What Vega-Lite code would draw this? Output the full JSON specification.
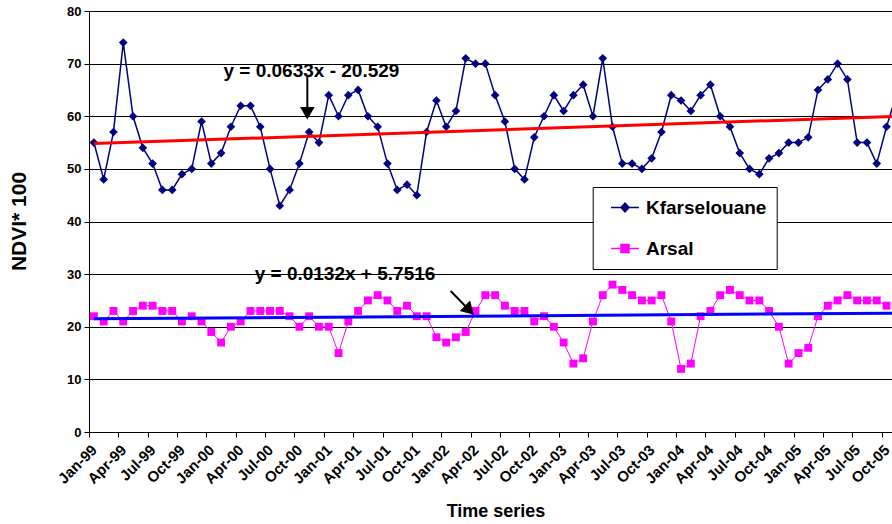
{
  "$schema": "https://vega.github.io/schema/vega-lite/v6.json",
  "width": 803,
  "height": 421,
  "autosize": {"type": "none"},
  "padding": {"left": 89, "top": 11, "right": 0, "bottom": 92},
  "background": "white",
  "config": {
    "font": "Liberation Sans",
    "view": {"fill": "#c0c0c0", "stroke": "#808080", "strokeWidth": 1},
    "axis": {"labelOverlap": false},
    "legend": {
      "title": null, "orient": "none", "legendX": 503.7, "legendY": 176,
      "fillColor": "white", "strokeColor": "black", "padding": 10,
      "labelFontSize": 19, "labelFontWeight": "bold", "labelColor": "black", "labelOffset": 10.5,
      "symbolSize": 361, "symbolOffset": 11.8, "rowPadding": 20, "symbolStrokeWidth": 1.5, "symbolOpacity": 1
    }
  },
  "resolve": {"axis": {"x": "independent"}},
  "datasets": {
    "legend": [{"series": "Kfarselouane"}, {"series": "Arsal"}],
    "series": [
      {"series":"Kfarselouane","idx":0,"v":55},{"series":"Kfarselouane","idx":1,"v":48},{"series":"Kfarselouane","idx":2,"v":57},{"series":"Kfarselouane","idx":3,"v":74},{"series":"Kfarselouane","idx":4,"v":60},{"series":"Kfarselouane","idx":5,"v":54},{"series":"Kfarselouane","idx":6,"v":51},{"series":"Kfarselouane","idx":7,"v":46},{"series":"Kfarselouane","idx":8,"v":46},{"series":"Kfarselouane","idx":9,"v":49},{"series":"Kfarselouane","idx":10,"v":50},{"series":"Kfarselouane","idx":11,"v":59},
      {"series":"Kfarselouane","idx":12,"v":51},{"series":"Kfarselouane","idx":13,"v":53},{"series":"Kfarselouane","idx":14,"v":58},{"series":"Kfarselouane","idx":15,"v":62},{"series":"Kfarselouane","idx":16,"v":62},{"series":"Kfarselouane","idx":17,"v":58},{"series":"Kfarselouane","idx":18,"v":50},{"series":"Kfarselouane","idx":19,"v":43},{"series":"Kfarselouane","idx":20,"v":46},{"series":"Kfarselouane","idx":21,"v":51},{"series":"Kfarselouane","idx":22,"v":57},{"series":"Kfarselouane","idx":23,"v":55},
      {"series":"Kfarselouane","idx":24,"v":64},{"series":"Kfarselouane","idx":25,"v":60},{"series":"Kfarselouane","idx":26,"v":64},{"series":"Kfarselouane","idx":27,"v":65},{"series":"Kfarselouane","idx":28,"v":60},{"series":"Kfarselouane","idx":29,"v":58},{"series":"Kfarselouane","idx":30,"v":51},{"series":"Kfarselouane","idx":31,"v":46},{"series":"Kfarselouane","idx":32,"v":47},{"series":"Kfarselouane","idx":33,"v":45},{"series":"Kfarselouane","idx":34,"v":57},{"series":"Kfarselouane","idx":35,"v":63},
      {"series":"Kfarselouane","idx":36,"v":58},{"series":"Kfarselouane","idx":37,"v":61},{"series":"Kfarselouane","idx":38,"v":71},{"series":"Kfarselouane","idx":39,"v":70},{"series":"Kfarselouane","idx":40,"v":70},{"series":"Kfarselouane","idx":41,"v":64},{"series":"Kfarselouane","idx":42,"v":59},{"series":"Kfarselouane","idx":43,"v":50},{"series":"Kfarselouane","idx":44,"v":48},{"series":"Kfarselouane","idx":45,"v":56},{"series":"Kfarselouane","idx":46,"v":60},{"series":"Kfarselouane","idx":47,"v":64},
      {"series":"Kfarselouane","idx":48,"v":61},{"series":"Kfarselouane","idx":49,"v":64},{"series":"Kfarselouane","idx":50,"v":66},{"series":"Kfarselouane","idx":51,"v":60},{"series":"Kfarselouane","idx":52,"v":71},{"series":"Kfarselouane","idx":53,"v":58},{"series":"Kfarselouane","idx":54,"v":51},{"series":"Kfarselouane","idx":55,"v":51},{"series":"Kfarselouane","idx":56,"v":50},{"series":"Kfarselouane","idx":57,"v":52},{"series":"Kfarselouane","idx":58,"v":57},{"series":"Kfarselouane","idx":59,"v":64},
      {"series":"Kfarselouane","idx":60,"v":63},{"series":"Kfarselouane","idx":61,"v":61},{"series":"Kfarselouane","idx":62,"v":64},{"series":"Kfarselouane","idx":63,"v":66},{"series":"Kfarselouane","idx":64,"v":60},{"series":"Kfarselouane","idx":65,"v":58},{"series":"Kfarselouane","idx":66,"v":53},{"series":"Kfarselouane","idx":67,"v":50},{"series":"Kfarselouane","idx":68,"v":49},{"series":"Kfarselouane","idx":69,"v":52},{"series":"Kfarselouane","idx":70,"v":53},{"series":"Kfarselouane","idx":71,"v":55},
      {"series":"Kfarselouane","idx":72,"v":55},{"series":"Kfarselouane","idx":73,"v":56},{"series":"Kfarselouane","idx":74,"v":65},{"series":"Kfarselouane","idx":75,"v":67},{"series":"Kfarselouane","idx":76,"v":70},{"series":"Kfarselouane","idx":77,"v":67},{"series":"Kfarselouane","idx":78,"v":55},{"series":"Kfarselouane","idx":79,"v":55},{"series":"Kfarselouane","idx":80,"v":51},{"series":"Kfarselouane","idx":81,"v":58},{"series":"Kfarselouane","idx":82,"v":64},
      {"series":"Arsal","idx":0,"v":22},{"series":"Arsal","idx":1,"v":21},{"series":"Arsal","idx":2,"v":23},{"series":"Arsal","idx":3,"v":21},{"series":"Arsal","idx":4,"v":23},{"series":"Arsal","idx":5,"v":24},{"series":"Arsal","idx":6,"v":24},{"series":"Arsal","idx":7,"v":23},{"series":"Arsal","idx":8,"v":23},{"series":"Arsal","idx":9,"v":21},{"series":"Arsal","idx":10,"v":22},{"series":"Arsal","idx":11,"v":21},
      {"series":"Arsal","idx":12,"v":19},{"series":"Arsal","idx":13,"v":17},{"series":"Arsal","idx":14,"v":20},{"series":"Arsal","idx":15,"v":21},{"series":"Arsal","idx":16,"v":23},{"series":"Arsal","idx":17,"v":23},{"series":"Arsal","idx":18,"v":23},{"series":"Arsal","idx":19,"v":23},{"series":"Arsal","idx":20,"v":22},{"series":"Arsal","idx":21,"v":20},{"series":"Arsal","idx":22,"v":22},{"series":"Arsal","idx":23,"v":20},
      {"series":"Arsal","idx":24,"v":20},{"series":"Arsal","idx":25,"v":15},{"series":"Arsal","idx":26,"v":21},{"series":"Arsal","idx":27,"v":23},{"series":"Arsal","idx":28,"v":25},{"series":"Arsal","idx":29,"v":26},{"series":"Arsal","idx":30,"v":25},{"series":"Arsal","idx":31,"v":23},{"series":"Arsal","idx":32,"v":24},{"series":"Arsal","idx":33,"v":22},{"series":"Arsal","idx":34,"v":22},{"series":"Arsal","idx":35,"v":18},
      {"series":"Arsal","idx":36,"v":17},{"series":"Arsal","idx":37,"v":18},{"series":"Arsal","idx":38,"v":19},{"series":"Arsal","idx":39,"v":23},{"series":"Arsal","idx":40,"v":26},{"series":"Arsal","idx":41,"v":26},{"series":"Arsal","idx":42,"v":24},{"series":"Arsal","idx":43,"v":23},{"series":"Arsal","idx":44,"v":23},{"series":"Arsal","idx":45,"v":21},{"series":"Arsal","idx":46,"v":22},{"series":"Arsal","idx":47,"v":20},
      {"series":"Arsal","idx":48,"v":17},{"series":"Arsal","idx":49,"v":13},{"series":"Arsal","idx":50,"v":14},{"series":"Arsal","idx":51,"v":21},{"series":"Arsal","idx":52,"v":26},{"series":"Arsal","idx":53,"v":28},{"series":"Arsal","idx":54,"v":27},{"series":"Arsal","idx":55,"v":26},{"series":"Arsal","idx":56,"v":25},{"series":"Arsal","idx":57,"v":25},{"series":"Arsal","idx":58,"v":26},{"series":"Arsal","idx":59,"v":21},
      {"series":"Arsal","idx":60,"v":12},{"series":"Arsal","idx":61,"v":13},{"series":"Arsal","idx":62,"v":22},{"series":"Arsal","idx":63,"v":23},{"series":"Arsal","idx":64,"v":26},{"series":"Arsal","idx":65,"v":27},{"series":"Arsal","idx":66,"v":26},{"series":"Arsal","idx":67,"v":25},{"series":"Arsal","idx":68,"v":25},{"series":"Arsal","idx":69,"v":23},{"series":"Arsal","idx":70,"v":20},{"series":"Arsal","idx":71,"v":13},
      {"series":"Arsal","idx":72,"v":15},{"series":"Arsal","idx":73,"v":16},{"series":"Arsal","idx":74,"v":22},{"series":"Arsal","idx":75,"v":24},{"series":"Arsal","idx":76,"v":25},{"series":"Arsal","idx":77,"v":26},{"series":"Arsal","idx":78,"v":25},{"series":"Arsal","idx":79,"v":25},{"series":"Arsal","idx":80,"v":25},{"series":"Arsal","idx":81,"v":24}
    ],
    "trend": [
      {"series":"Kfarselouane","idx":0,"v":54.8},{"series":"Kfarselouane","idx":83,"v":60.05},
      {"series":"Arsal","idx":0,"v":21.5},{"series":"Arsal","idx":83,"v":22.6}
    ],
    "notes": [
      {"label":"y = 0.0633x - 20.529","idx":22.23,"v":67.52},
      {"label":"y = 0.0132x + 5.7516","idx":25.66,"v":28.88}
    ],
    "arrows": [
      {"name":"a1","idx":21.81,"idx2":21.81,"v":67.8,"v2":61.3},
      {"name":"a2","idx":36.46,"idx2":38.07,"v":26.8,"v2":23.7}
    ],
    "heads": [
      {"name":"a1","idx":21.81,"v":60.56},
      {"name":"a2","idx":38.37,"v":23.14}
    ]
  },
  "layer": [
    {
      "data": {"name": "series"},
      "transform": [{"filter": "datum.series === 'Kfarselouane'"}],
      "mark": {"type": "line", "color": "#000080", "strokeWidth": 1.5, "clip": true},
      "encoding": {
        "x": {
          "field": "idx", "type": "quantitative",
          "scale": {"domain": [-0.5, 81.56], "nice": false, "zero": false},
          "axis": {
            "orient": "bottom",
            "values": [0,6,12,18,24,30,36,42,48,54,60,66,72,78],
            "labelExpr": "['Jan','Apr','Jul','Oct'][floor((datum.value % 12) / 3)] + '-' + (datum.value < 12 ? '99' : '0' + floor(datum.value / 12 - 1))",
            "labelAngle": -45, "labelAlign": "right", "labelBaseline": "middle",
            "labelFontSize": 15, "labelFontWeight": "bold", "labelColor": "black",
            "labelPadding": 10, "labelOverlap": false, "labelFlush": false, "labelBound": false,
            "tickOffset": -4.893, "labelOffset": 4.893,
            "tickSize": 5, "tickColor": "black", "domainColor": "black", "grid": false,
            "title": "Time series", "titleFontSize": 18, "titleFontWeight": "bold", "titleColor": "black",
            "titleX": 406.5, "titleY": 84, "titleBaseline": "alphabetic", "titleAlign": "center"
          }
        },
        "y": {
          "field": "v", "type": "quantitative",
          "scale": {"domain": [0, 80], "nice": false},
          "axis": {
            "values": [0,10,20,30,40,50,60,70,80],
            "labelFontSize": 13, "labelFontWeight": "bold", "labelColor": "black", "labelPadding": 3,
            "tickSize": 5, "tickColor": "black", "domainColor": "black",
            "grid": true, "gridColor": "#000000", "gridWidth": 1,
            "title": "NDVI* 100", "titleFontSize": 21, "titleFontWeight": "bold", "titleColor": "black",
            "titleAngle": -90, "titleX": -70, "titleY": 210, "titleAlign": "center", "titleBaseline": "middle"
          }
        }
      }
    },
    {
      "data": {"name": "series"},
      "transform": [{"filter": "datum.series === 'Arsal'"}],
      "mark": {"type": "line", "color": "#ff00ff", "strokeWidth": 1, "clip": true},
      "encoding": {
        "x": {
          "field": "idx", "type": "quantitative",
          "axis": {
            "orient": "bottom",
            "values": [3,9,15,21,27,33,39,45,51,57,63,69,75,81],
            "labelExpr": "['Jan','Apr','Jul','Oct'][floor((datum.value % 12) / 3)] + '-' + (datum.value < 12 ? '99' : '0' + floor(datum.value / 12 - 1))",
            "labelAngle": -45, "labelAlign": "right", "labelBaseline": "middle",
            "labelFontSize": 15, "labelFontWeight": "bold", "labelColor": "black",
            "labelPadding": 10, "labelOverlap": false, "labelFlush": false, "labelBound": false,
            "tickOffset": -4.893, "labelOffset": 4.893,
            "tickSize": 5, "tickColor": "black", "domainColor": "black", "grid": false,
            "title": null
          }
        },
        "y": {"field": "v", "type": "quantitative"}
      }
    },
    {
      "data": {"name": "series"},
      "transform": [{"filter": "datum.series === 'Kfarselouane'"}],
      "mark": {"type": "point", "shape": "diamond", "size": 75, "filled": true, "opacity": 1, "color": "#000080", "clip": true},
      "encoding": {"x": {"field": "idx", "type": "quantitative", "axis": null}, "y": {"field": "v", "type": "quantitative"}}
    },
    {
      "data": {"name": "series"},
      "transform": [{"filter": "datum.series === 'Arsal'"}],
      "mark": {"type": "point", "shape": "square", "size": 62, "filled": true, "opacity": 1, "color": "#ff00ff", "clip": true},
      "encoding": {"x": {"field": "idx", "type": "quantitative", "axis": null}, "y": {"field": "v", "type": "quantitative"}}
    },
    {
      "data": {"name": "trend"},
      "transform": [{"filter": "datum.series === 'Kfarselouane'"}],
      "mark": {"type": "line", "color": "#ff0000", "strokeWidth": 3, "clip": true},
      "encoding": {"x": {"field": "idx", "type": "quantitative", "axis": null}, "y": {"field": "v", "type": "quantitative"}}
    },
    {
      "data": {"name": "trend"},
      "transform": [{"filter": "datum.series === 'Arsal'"}],
      "mark": {"type": "line", "color": "#0000ff", "strokeWidth": 3, "clip": true},
      "encoding": {"x": {"field": "idx", "type": "quantitative", "axis": null}, "y": {"field": "v", "type": "quantitative"}}
    },
    {
      "data": {"name": "notes"},
      "mark": {"type": "text", "fontSize": 19, "fontWeight": "bold", "color": "black", "align": "center", "baseline": "alphabetic"},
      "encoding": {"x": {"field": "idx", "type": "quantitative", "axis": null}, "y": {"field": "v", "type": "quantitative"}, "text": {"field": "label"}}
    },
    {
      "data": {"name": "arrows"},
      "mark": {"type": "rule", "color": "black", "strokeWidth": 2},
      "encoding": {
        "x": {"field": "idx", "type": "quantitative", "axis": null}, "x2": {"field": "idx2"},
        "y": {"field": "v", "type": "quantitative"}, "y2": {"field": "v2"}
      }
    },
    {
      "data": {"name": "heads"},
      "transform": [{"filter": "datum.name === 'a1'"}],
      "mark": {"type": "point", "shape": "triangle-down", "filled": true, "color": "black", "opacity": 1, "size": 213, "angle": 0},
      "encoding": {"x": {"field": "idx", "type": "quantitative", "axis": null}, "y": {"field": "v", "type": "quantitative"}}
    },
    {
      "data": {"name": "heads"},
      "transform": [{"filter": "datum.name === 'a2'"}],
      "mark": {"type": "point", "shape": "triangle-down", "filled": true, "color": "black", "opacity": 1, "size": 213, "angle": -45},
      "encoding": {"x": {"field": "idx", "type": "quantitative", "axis": null}, "y": {"field": "v", "type": "quantitative"}}
    },
    {
      "data": {"name": "legend"},
      "mark": {"type": "point", "opacity": 0},
      "encoding": {
        "fill": {"field": "series", "type": "nominal", "scale": {"domain": ["Kfarselouane", "Arsal"], "range": ["#000080", "#ff00ff"]}},
        "stroke": {"field": "series", "type": "nominal", "scale": {"domain": ["Kfarselouane", "Arsal"], "range": ["#000080", "#ff00ff"]}},
        "shape": {"field": "series", "type": "nominal", "scale": {"domain": ["Kfarselouane", "Arsal"], "range": ["M-1.47,0L1.47,0M0,-0.46L0.42,0L0,0.46L-0.42,0Z", "M-1.47,0L1.47,0M-0.42,-0.42L0.42,-0.42L0.42,0.42L-0.42,0.42Z"]}}
      }
    }
  ]
}
